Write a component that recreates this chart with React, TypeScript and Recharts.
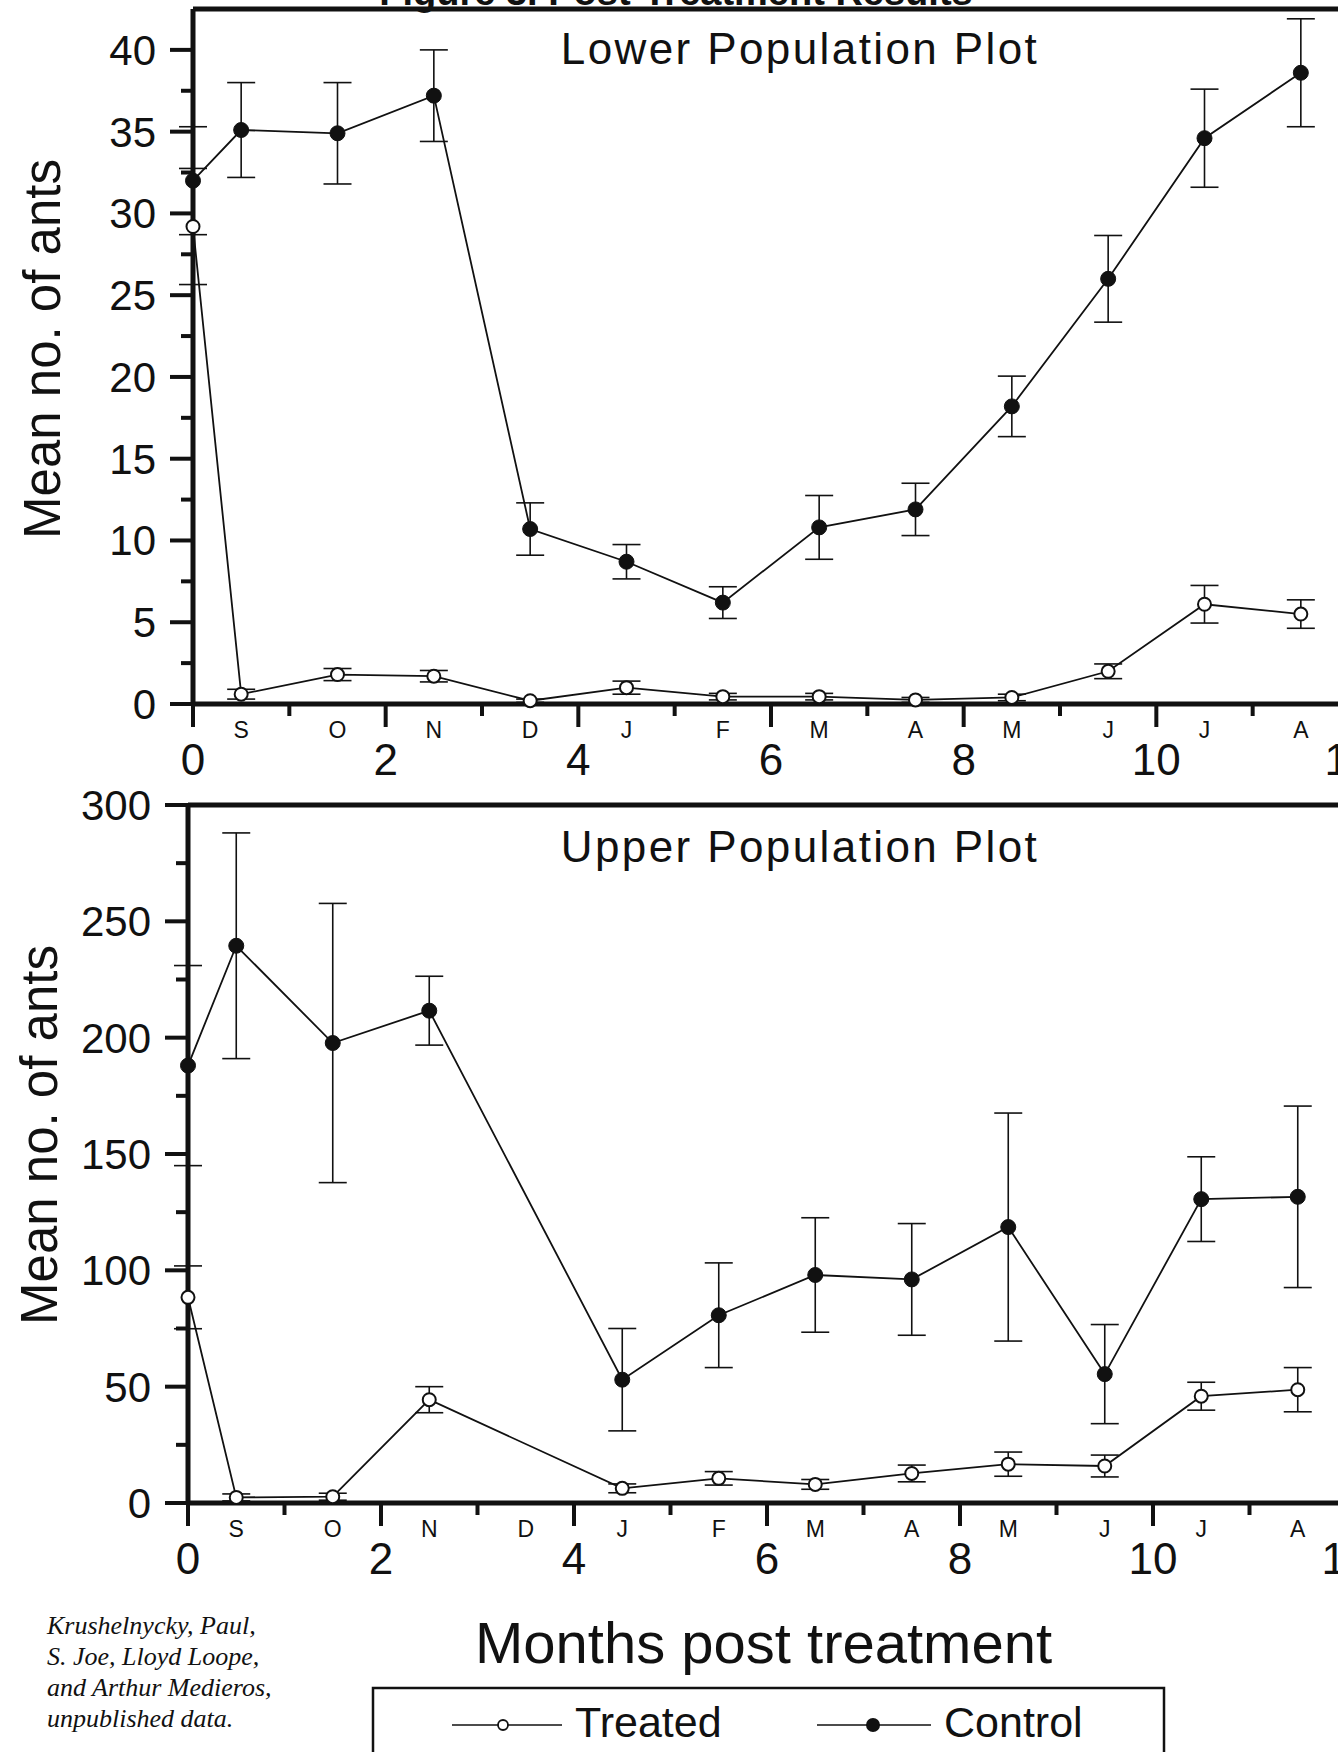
import { LineChart, Line, XAxis, YAxis, ErrorBar, ReferenceLine } from "recharts";

const FONT = "'Liberation Sans', Arial, Helvetica, sans-serif";
const INK = "#111";

// sampling positions, in months after treatment
const monthPos = [0, 0.5, 1.5, 2.5, 3.5, 4.5, 5.5, 6.5, 7.5, 8.5, 9.5, 10.5, 11.5];
const monthLetters = ["S", "O", "N", "D", "J", "F", "M", "A", "M", "J", "J", "A"];
const xTicks = [
  0, 0.5, 1, 1.5, 2, 2.5, 3, 3.5, 4, 4.5, 5, 5.5, 6, 6.5, 7, 7.5, 8, 8.5, 9, 9.5, 10, 10.5, 11,
  11.5, 12,
];

// Lower Population Plot
const lowerControl = [32.0, 35.1, 34.9, 37.2, 10.7, 8.7, 6.2, 10.8, 11.9, 18.2, 26.0, 34.6, 38.6];
const lowerControlErr = [3.3, 2.9, 3.1, 2.8, 1.6, 1.05, 0.97, 1.95, 1.6, 1.85, 2.65, 3.0, 3.3];
const lowerTreated = [29.2, 0.6, 1.8, 1.7, 0.2, 1.0, 0.45, 0.45, 0.25, 0.4, 2.0, 6.1, 5.5];
const lowerTreatedErr = [3.55, 0.3, 0.37, 0.35, 0.1, 0.4, 0.2, 0.2, 0.15, 0.2, 0.45, 1.15, 0.87];
const lowerTicks = [
  0, 2.5, 5, 7.5, 10, 12.5, 15, 17.5, 20, 22.5, 25, 27.5, 30, 32.5, 35, 37.5, 40,
];

// Upper Population Plot (no December sample)
const upperControl = [188, 239.5, 197.7, 211.6, null, 53, 80.7, 98, 96.1, 118.6, 55.4, 130.6, 131.6];
const upperControlErr = [43, 48.5, 60, 14.8, null, 22, 22.5, 24.6, 24, 49, 21.3, 18.2, 39];
const upperTreated = [88.4, 2.4, 2.7, 44.4, null, 6.3, 10.6, 8.0, 12.7, 16.7, 15.9, 45.9, 48.7];
const upperTreatedErr = [13.5, 1.5, 1.5, 5.6, null, 1.9, 2.9, 2.1, 3.6, 5.2, 4.7, 6, 9.5];
const upperTicks = [
  0, 25, 50, 75, 100, 125, 150, 175, 200, 225, 250, 275, 300,
];

const buildRows = (
  control: (number | null)[],
  controlErr: (number | null)[],
  treated: (number | null)[],
  treatedErr: (number | null)[]
) =>
  monthPos
    .map((x, i) => ({
      x,
      control: control[i],
      controlErr: controlErr[i],
      treated: treated[i],
      treatedErr: treatedErr[i],
    }))
    .filter((r) => r.control != null);

const lowerRows = buildRows(lowerControl, lowerControlErr, lowerTreated, lowerTreatedErr);
const upperRows = buildRows(upperControl, upperControlErr, upperTreated, upperTreatedErr);

const XTick = (props: any) => {
  const { x, y, payload } = props;
  const v = payload.value;
  if (Number.isInteger(v)) {
    const even = v % 2 === 0;
    return (
      <g>
        <line x1={x} x2={x} y1={y} y2={y + (even ? 23 : 12)} stroke={INK} strokeWidth={4} />
        {even && (
          <text x={x} y={y + 71} textAnchor="middle" fontSize={44} fill={INK} fontFamily={FONT}>
            {v}
          </text>
        )}
      </g>
    );
  }
  return (
    <text x={x} y={y + 34} textAnchor="middle" fontSize={23} fill={INK} fontFamily={FONT}>
      {monthLetters[Math.floor(v)]}
    </text>
  );
};

const makeYTick = (majorStep: number) => (props: any) => {
  const { x, y, payload } = props;
  const v = payload.value;
  const major = v % majorStep === 0;
  return (
    <g>
      <line x1={x - (major ? 23 : 12)} x2={x} y1={y} y2={y} stroke={INK} strokeWidth={4} />
      {major && (
        <text x={x - 37} y={y + 15} textAnchor="end" fontSize={42} fill={INK} fontFamily={FONT}>
          {v}
        </text>
      )}
    </g>
  );
};

const LowerYTick = makeYTick(5);
const UpperYTick = makeYTick(50);

const axisLine = { stroke: INK, strokeWidth: 5 };

const PlotPanel = (props: {
  rows: any[];
  width: number;
  height: number;
  margin: { top: number; right: number; bottom: number; left: number };
  yMax: number;
  yTicks: number[];
  yTick: any;
}) => (
  <LineChart width={props.width} height={props.height} data={props.rows} margin={props.margin}>
    <XAxis
      dataKey="x"
      type="number"
      domain={[0, 12]}
      ticks={xTicks}
      interval={0}
      tickLine={false}
      tickSize={0}
      tickMargin={0}
      axisLine={axisLine}
      tick={<XTick />}
      height={70}
    />
    <YAxis
      type="number"
      domain={[0, props.yMax]}
      ticks={props.yTicks}
      interval={0}
      tickLine={false}
      tickSize={0}
      tickMargin={0}
      axisLine={axisLine}
      tick={props.yTick}
      width={150}
    />
    <ReferenceLine y={props.yMax} stroke={INK} strokeWidth={5} />
    <Line
      dataKey="control"
      stroke={INK}
      strokeWidth={1.8}
      connectNulls
      dot={{ r: 7.5, fill: INK, stroke: INK, strokeWidth: 1 }}
      activeDot={false}
      isAnimationActive={false}
    >
      <ErrorBar dataKey="controlErr" width={14} stroke={INK} strokeWidth={1.6} direction="y" isAnimationActive={false} />
    </Line>
    <Line
      dataKey="treated"
      stroke={INK}
      strokeWidth={1.8}
      connectNulls
      dot={{ r: 6.5, fill: "#fff", stroke: INK, strokeWidth: 2 }}
      activeDot={false}
      isAnimationActive={false}
    >
      <ErrorBar dataKey="treatedErr" width={14} stroke={INK} strokeWidth={1.6} direction="y" isAnimationActive={false} />
    </Line>
  </LineChart>
);

export default function App() {
  return (
    <div
      style={{
        position: "absolute",
        left: 0,
        top: 0,
        width: 1338,
        height: 1752,
        overflow: "hidden",
        background: "#fff",
        fontFamily: FONT,
      }}
    >
      <div style={{ position: "absolute", left: 0, top: 0 }}>
        <PlotPanel
          rows={lowerRows}
          width={1400}
          height={790}
          margin={{ top: 9, right: 51, bottom: 16, left: 43 }}
          yMax={42.5}
          yTicks={lowerTicks}
          yTick={<LowerYTick />}
        />
      </div>
      <div style={{ position: "absolute", left: 0, top: 740 }}>
        <PlotPanel
          rows={upperRows}
          width={1400}
          height={850}
          margin={{ top: 65, right: 54, bottom: 17, left: 38 }}
          yMax={300}
          yTicks={upperTicks}
          yTick={<UpperYTick />}
        />
      </div>
      <svg
        width={1338}
        height={1752}
        style={{ position: "absolute", left: 0, top: 0, pointerEvents: "none" }}
        fontFamily={FONT}
        fill={INK}
      >
        <text x={676} y={5} textAnchor="middle" fontSize={38} fontWeight="bold">
          Figure 3. Post-Treatment Results
        </text>
        <text x={800} y={64} textAnchor="middle" fontSize={44} letterSpacing={2.4}>
          Lower Population Plot
        </text>
        <text x={800} y={862} textAnchor="middle" fontSize={44} letterSpacing={2.4}>
          Upper Population Plot
        </text>
        <text x={60} y={349} textAnchor="middle" fontSize={51} transform="rotate(-90 60 349)">
          Mean no. of ants
        </text>
        <text x={57} y={1135} textAnchor="middle" fontSize={51} transform="rotate(-90 57 1135)">
          Mean no. of ants
        </text>
        <text x={475} y={1663} fontSize={58}>
          Months post treatment
        </text>
        <g fontFamily="'Liberation Serif', 'Times New Roman', serif" fontStyle="italic" fontSize={26}>
          <text x={47} y={1634}>Krushelnycky, Paul,</text>
          <text x={47} y={1665}>S. Joe, Lloyd Loope,</text>
          <text x={47} y={1696}>and Arthur Medieros,</text>
          <text x={47} y={1727}>unpublished data.</text>
        </g>
        <rect x={373} y={1688} width={791} height={120} fill="none" stroke={INK} strokeWidth={2.5} />
        <line x1={452} x2={562} y1={1725} y2={1725} stroke={INK} strokeWidth={1.5} />
        <circle cx={503} cy={1725} r={5} fill="#fff" stroke={INK} strokeWidth={1.8} />
        <text x={575} y={1737} fontSize={43}>
          Treated
        </text>
        <line x1={817} x2={931} y1={1725} y2={1725} stroke={INK} strokeWidth={1.5} />
        <circle cx={873} cy={1725} r={7} fill={INK} />
        <text x={944} y={1737} fontSize={43}>
          Control
        </text>
      </svg>
    </div>
  );
}
